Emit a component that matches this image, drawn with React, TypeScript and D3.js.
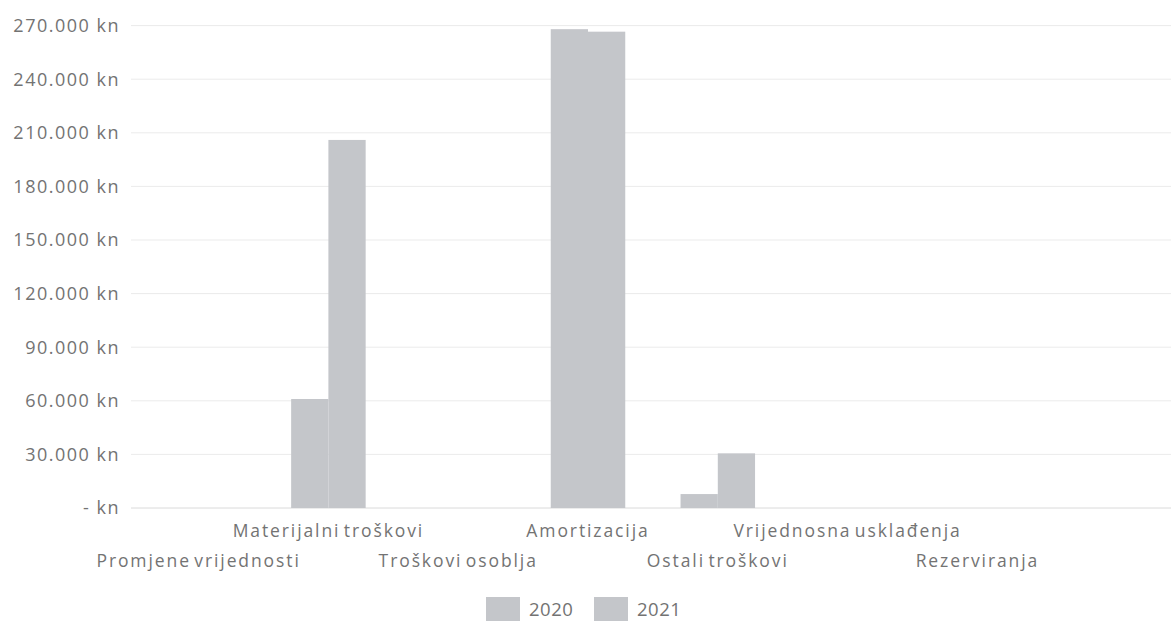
import React from "react";
import * as d3 from "d3";

const categories = [
  "Promjene vrijednosti",
  "Materijalni troškovi",
  "Troškovi osoblja",
  "Amortizacija",
  "Ostali troškovi",
  "Vrijednosna usklađenja",
  "Rezerviranja",
];
const values2020 = [0, 61000, 0, 268000, 7800, 0, 0];
const values2021 = [0, 206000, 0, 266600, 30600, 0, 0];
const seriesNames = ["2020", "2021"];
const yTicks = [0, 30000, 60000, 90000, 120000, 150000, 180000, 210000, 240000, 270000];

const W = 1171;
const H = 622;
const FONT = "'Open Sans', 'DejaVu Sans', sans-serif";
const TEXT = "#737373";
const BAR = "#c4c6ca";

export default function App() {
  const x = d3
    .scaleBand<string>()
    .domain(categories)
    .range([133.7, 1042.3])
    .paddingInner(0.426)
    .paddingOuter(0.213);
  const xs = d3.scaleBand<string>().domain(seriesNames).range([0, x.bandwidth()]).padding(0);
  const y = d3.scaleLinear().domain([0, 270000]).range([508, 25.6]);
  const fmt = (v: number) =>
    v === 0 ? "- kn" : d3.format(",")(v).replace(/,/g, ".") + " kn";
  const series = [values2020, values2021];

  return (
    <svg
      width={W}
      height={H}
      style={{ position: "absolute", left: 0, top: 0, background: "#fff" }}
      fontFamily={FONT}
    >
      {yTicks.map((t) => (
        <g key={t}>
          <line
            x1={131}
            x2={W}
            y1={y(t)}
            y2={y(t)}
            stroke={t === 0 ? "#dadada" : "#ebebeb"}
            strokeWidth={1}
          />
          <text
            x={120}
            y={y(t)}
            dy="0.36em"
            textAnchor="end"
            fontSize={18}
            letterSpacing={1.5}
            fill={TEXT}
          >
            {fmt(t)}
          </text>
        </g>
      ))}
      {categories.map((c, i) =>
        series.map((vals, s) =>
          vals[i] > 0 ? (
            <rect
              key={c + s}
              x={(x(c) as number) + (xs(seriesNames[s]) as number)}
              y={y(vals[i])}
              width={xs.bandwidth()}
              height={y(0) - y(vals[i])}
              fill={BAR}
            />
          ) : null
        )
      )}
      {categories.map((c, i) => (
        <text
          key={c}
          x={(x(c) as number) + x.bandwidth() / 2}
          y={i % 2 === 1 ? 537 : 567}
          textAnchor="middle"
          fontSize={17.5}
          letterSpacing={1.9}
          wordSpacing={-3}
          fill={TEXT}
        >
          {c}
        </text>
      ))}
      {seriesNames.map((n, i) => (
        <g key={n} transform={`translate(${486 + i * 108},597)`}>
          <rect width={34} height={24} fill={BAR} />
          <text x={43} y={19} fontSize={18.5} letterSpacing={0.5} fill={TEXT}>
            {n}
          </text>
        </g>
      ))}
    </svg>
  );
}
